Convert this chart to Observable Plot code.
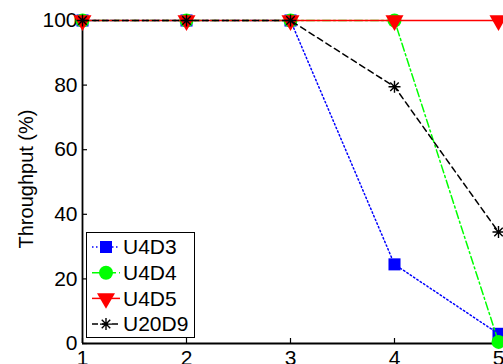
<!DOCTYPE html>
<html><head><meta charset="utf-8">
<script src="https://cdn.jsdelivr.net/npm/d3@7"></script>
<script src="https://cdn.jsdelivr.net/npm/@observablehq/plot@0.6"></script>
<style>
html,body{margin:0;padding:0;background:#fff;}
#wrap{position:relative;width:503px;height:364px;overflow:hidden;font-family:"Liberation Sans",Arial,sans-serif;}
#wrap svg.plot{position:absolute;left:0;top:0;}
#legend{position:absolute;left:86px;top:232px;width:107px;height:104px;border:1px solid #000;background:#fff;}
#legend svg{position:absolute;left:0;top:0;}
#ylabel{position:absolute;left:26px;top:179px;width:0;height:0;}
#ylabel span{position:absolute;left:0;top:0;transform:translate(-50%,-50%) rotate(-90deg);white-space:nowrap;font-size:20px;line-height:1;color:#000;}
</style></head><body><div id="wrap"></div>
<script>
// ---- data ----
const xValues = [1, 2, 3, 4, 5];
const seriesNames = ["U4D3", "U4D4", "U4D5", "U20D9"];
const u4d3 = [100, 100, 100, 24.5, 3];
const u4d4 = [100, 100, 100, 100, 0.5];
const u4d5 = [100, 100, 100, 100, 100];
const u20d9 = [100, 100, 100, 79.5, 34.5];
const xTicks = [1, 2, 3, 4, 5];
const yTicks = [0, 20, 40, 60, 80, 100];
const yLabel = "Throughput (%)";

const seriesValues = [u4d3, u4d4, u4d5, u20d9];
const rows = seriesNames.flatMap((s, i) => xValues.map((x, j) => ({series: s, x, y: seriesValues[i][j]})));

// ---- symbols ----
const asterisk = {draw(ctx, size) {
  const r = Math.sqrt(size / Math.PI), d = r * Math.SQRT1_2;
  ctx.moveTo(-r, 0); ctx.lineTo(r, 0);
  ctx.moveTo(0, -r); ctx.lineTo(0, r);
  ctx.moveTo(-d, -d); ctx.lineTo(d, d);
  ctx.moveTo(-d, d); ctx.lineTo(d, -d);
}};
const triDown = {draw(ctx, size) {
  const y = Math.sqrt(size / (Math.sqrt(3) * 3));
  ctx.moveTo(0, 2 * y); ctx.lineTo(-Math.sqrt(3) * y, -y); ctx.lineTo(Math.sqrt(3) * y, -y); ctx.closePath();
}};

const styles = [
  {color: "#0000ff", dash: "1.5,2.5", symbol: d3.symbolSquare, plotSymbol: "square", r: 6.8, filled: true},
  {color: "#00ff00", dash: "8,3,2,3", symbol: d3.symbolCircle, plotSymbol: "circle", r: 7, filled: true},
  {color: "#ff0000", dash: null, symbol: triDown, plotSymbol: triDown, r: 6.7, filled: true},
  {color: "#000000", dash: "6,4", symbol: asterisk, plotSymbol: asterisk, r: 6, filled: false}
];

const seriesMarks = seriesNames.flatMap((name, i) => {
  const st = styles[i];
  const data = rows.filter(d => d.series === name);
  return [
    Plot.line(data, {x: "x", y: "y", stroke: st.color, strokeWidth: 1.5, strokeDasharray: st.dash}),
    Plot.dot(data, st.filled
      ? {x: "x", y: "y", symbol: st.plotSymbol, r: st.r, fill: st.color, stroke: "none"}
      : {x: "x", y: "y", symbol: st.plotSymbol, r: st.r, fill: "none", stroke: st.color, strokeWidth: 1.4})
  ];
});

const chart = Plot.plot({
  width: 503, height: 364,
  marginLeft: 82, marginRight: 5, marginTop: 20, marginBottom: 21,
  x: {domain: [xTicks[0], xTicks[xTicks.length - 1]], label: null},
  y: {domain: [yTicks[0], yTicks[yTicks.length - 1]], label: null},
  style: {fontSize: "21px", fontFamily: "'Liberation Sans', Arial, sans-serif", background: "white", color: "black", overflow: "visible"},
  marks: [
    Plot.axisY(yTicks, {tickSize: 0, tickPadding: 5, fontSize: 21}),
    Plot.axisY(yTicks, {tickSize: 5, dx: 5, tickFormat: () => "", strokeWidth: 1.2}),
    Plot.axisX(xTicks, {tickSize: 0, tickPadding: 7, fontSize: 21}),
    Plot.axisX(xTicks, {tickSize: 5, dy: -5, tickFormat: () => "", strokeWidth: 1.2}),
    Plot.ruleX([xTicks[0]], {strokeWidth: 1.8}),
    Plot.ruleY([yTicks[0]], {strokeWidth: 1.8}),
    ...seriesMarks
  ]
});
chart.classList.add("plot");
const wrap = document.getElementById("wrap");
wrap.appendChild(chart);

// ---- y label ----
const yl = document.createElement("div");
yl.id = "ylabel";
const ys = document.createElement("span");
ys.textContent = yLabel;
yl.appendChild(ys);
wrap.appendChild(yl);

// ---- legend ----
const legend = document.createElement("div");
legend.id = "legend";
wrap.appendChild(legend);
const lsvg = d3.select(legend).append("svg").attr("width", 107).attr("height", 104);
const rowY = i => 14 + i * 25.7;
seriesNames.forEach((name, i) => {
  const st = styles[i];
  const g = lsvg.append("g").attr("transform", `translate(0,${rowY(i)})`);
  g.append("line").attr("x1", 5).attr("x2", 33).attr("y1", 0).attr("y2", 0)
    .attr("stroke", st.color).attr("stroke-width", 1.5).attr("stroke-dasharray", st.dash);
  g.append("path").attr("transform", "translate(19,0)")
    .attr("d", d3.symbol(st.symbol, st.r * st.r * Math.PI)())
    .attr("fill", st.filled ? st.color : "none")
    .attr("stroke", st.filled ? "none" : st.color).attr("stroke-width", 1.4);
  g.append("text").attr("x", 36).attr("y", 0).attr("dy", "0.35em")
    .attr("font-size", 21).attr("font-family", "'Liberation Sans', Arial, sans-serif")
    .text(name);
});
</script></body></html>
